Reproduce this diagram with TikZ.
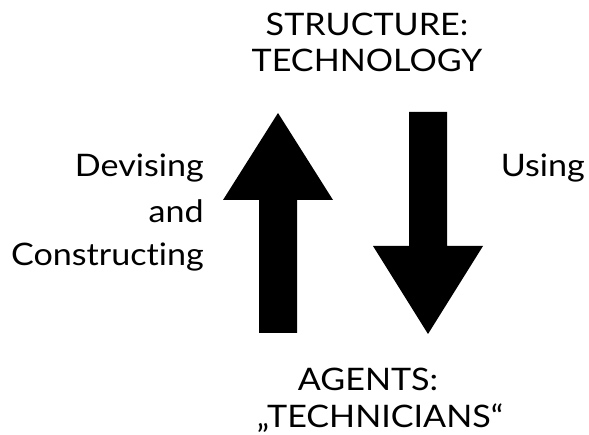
\documentclass[tikz,border=0pt]{standalone}
\usepackage{fontspec}
\setmainfont[FakeStretch=1.1,Ligatures={NoCommon,NoContextual}]{Lato}
\usepackage{tikz}
\usetikzlibrary{calc,positioning}

\begin{document}
\begin{tikzpicture}[x=1pt,y=-1pt,font=\fontsize{31}{36}\selectfont]
\tikzstyle{label}=[inner sep=0pt,anchor=base]
\tikzstyle{side}=[inner sep=0pt,anchor=base east]
\tikzstyle{bigarrow}=[fill=black,draw=none]

\useasboundingbox (0,0) rectangle (589,435);

\node[label] (structure)  at (367,36)  {STRUCTURE:};
\node[label] (technology) at (367,72)  {TECHNOLOGY};
\node[label] (agents)     at (368,391) {AGENTS:};
\node[label] (technicians) at (380,428) {„TECHNICIANS“};

\node[side] (devising)     at (204,177) {Devising};
\node[side] (and)          at (204,223) {and};
\node[side] (constructing) at (204,266) {Constructing};
\node[side] (using)        at (585,177) {Using};

% up: devising and constructing
\fill[bigarrow] (278,113) -- (333,200) -- (297,200) -- (297,333)
  -- (259,333) -- (259,200) -- (223,200) -- cycle;
% down: using
\fill[bigarrow] (409,112) -- (447,112) -- (447,246) -- (483,246)
  -- (428,334) -- (373,246) -- (409,246) -- cycle;
\end{tikzpicture}
\end{document}
